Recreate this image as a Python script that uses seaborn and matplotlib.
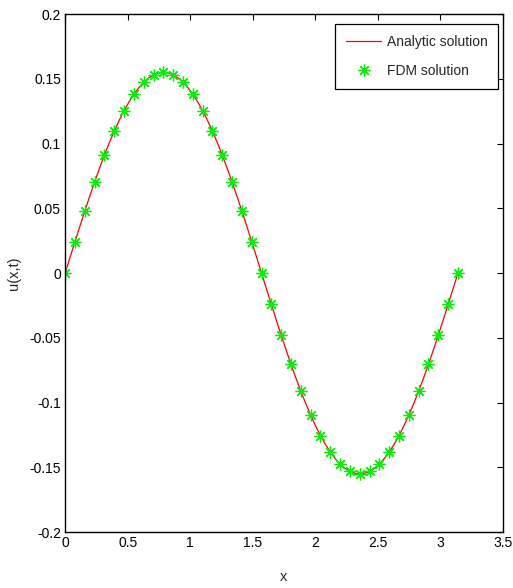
import numpy as np
import pandas as pd
import matplotlib
matplotlib.use("Agg")
import matplotlib.pyplot as plt
import seaborn as sns

# FDM solution samples (41 grid points on [0, pi])
fdm_x = [0.000, 0.079, 0.157, 0.236, 0.314, 0.393, 0.471, 0.550, 0.628, 0.707,
         0.785, 0.864, 0.942, 1.021, 1.100, 1.178, 1.257, 1.335, 1.414, 1.492,
         1.571, 1.649, 1.728, 1.806, 1.885, 1.963, 2.042, 2.121, 2.199, 2.278,
         2.356, 2.435, 2.513, 2.592, 2.670, 2.749, 2.827, 2.906, 2.985, 3.063,
         3.142]
fdm_u = [0.0000, 0.0242, 0.0479, 0.0704, 0.0911, 0.1096, 0.1254, 0.1381, 0.1474, 0.1531,
         0.1550, 0.1531, 0.1474, 0.1381, 0.1254, 0.1096, 0.0911, 0.0704, 0.0479, 0.0242,
         0.0000, -0.0242, -0.0479, -0.0704, -0.0911, -0.1096, -0.1254, -0.1381, -0.1474, -0.1531,
         -0.1550, -0.1531, -0.1474, -0.1381, -0.1254, -0.1096, -0.0911, -0.0704, -0.0479, -0.0242,
         0.0000]

# Analytic solution (finer sampling)
ana_x = np.linspace(0.0, 3.1416, 81)
ana_u = [0.0000, 0.0122, 0.0242, 0.0362, 0.0479, 0.0593, 0.0704, 0.0810, 0.0911, 0.1007,
         0.1096, 0.1179, 0.1254, 0.1322, 0.1381, 0.1432, 0.1474, 0.1507, 0.1531, 0.1545,
         0.1550, 0.1545, 0.1531, 0.1507, 0.1474, 0.1432, 0.1381, 0.1322, 0.1254, 0.1179,
         0.1096, 0.1007, 0.0911, 0.0810, 0.0704, 0.0593, 0.0479, 0.0362, 0.0242, 0.0122,
         0.0000, -0.0122, -0.0242, -0.0362, -0.0479, -0.0593, -0.0704, -0.0810, -0.0911, -0.1007,
         -0.1096, -0.1179, -0.1254, -0.1322, -0.1381, -0.1432, -0.1474, -0.1507, -0.1531, -0.1545,
         -0.1550, -0.1545, -0.1531, -0.1507, -0.1474, -0.1432, -0.1381, -0.1322, -0.1254, -0.1179,
         -0.1096, -0.1007, -0.0911, -0.0810, -0.0704, -0.0593, -0.0479, -0.0362, -0.0242, -0.0122,
         0.0000]

x_ticks = [0, 0.5, 1, 1.5, 2, 2.5, 3, 3.5]
x_tick_labels = ["0", "0.5", "1", "1.5", "2", "2.5", "3", "3.5"]
y_ticks = [-0.2, -0.15, -0.1, -0.05, 0, 0.05, 0.1, 0.15, 0.2]
y_tick_labels = ["-0.2", "-0.15", "-0.1", "-0.05", "0", "0.05", "0.1", "0.15", "0.2"]

sns.set_style("white")
plt.rcParams["font.family"] = ["Liberation Sans Narrow", "Liberation Sans", "DejaVu Sans"]
plt.rcParams["axes.unicode_minus"] = False

fig = plt.figure(figsize=(5.13, 5.88), dpi=100)
ax = fig.add_axes([0.127, 0.095, 0.853, 0.881])

ana_df = pd.DataFrame({"x": ana_x, "u": ana_u})
fdm_df = pd.DataFrame({"x": fdm_x, "u": fdm_u})

sns.lineplot(data=ana_df, x="x", y="u", ax=ax, color="red", linewidth=0.9,
             label="Analytic solution", sort=False, estimator=None)
sns.lineplot(data=fdm_df, x="x", y="u", ax=ax, color=(0, 1, 0), linestyle="",
             marker=(8, 2, 0), markersize=8.5, markeredgewidth=0.9,
             markeredgecolor=(0, 0.95, 0), label="FDM solution", sort=False, estimator=None)

ax.set_xlim(0, 3.5)
ax.set_ylim(-0.2, 0.2)
ax.set_xticks(x_ticks)
ax.set_xticklabels(x_tick_labels)
ax.set_yticks(y_ticks)
ax.set_yticklabels(y_tick_labels)
ax.tick_params(direction="in", length=4, width=0.8, top=True, right=True,
               labelsize=10, colors="black", pad=3)
for s in ax.spines.values():
    s.set_visible(True)
    s.set_color("black")
    s.set_linewidth(1.0)

ax.set_xlabel("x", fontsize=10.5, labelpad=14)
ax.set_ylabel("u(x,t)", fontsize=10.5, labelpad=6)

leg = ax.legend(loc="upper right", bbox_to_anchor=(0.990, 0.981), fontsize=10,
                frameon=True, fancybox=False, framealpha=1, edgecolor="black",
                handlelength=2.5, borderpad=0.8, labelspacing=1.05, handletextpad=0.4,
                borderaxespad=0.0)
leg.get_frame().set_linewidth(0.9)

fig.savefig("out.png", dpi=100, facecolor="white")
